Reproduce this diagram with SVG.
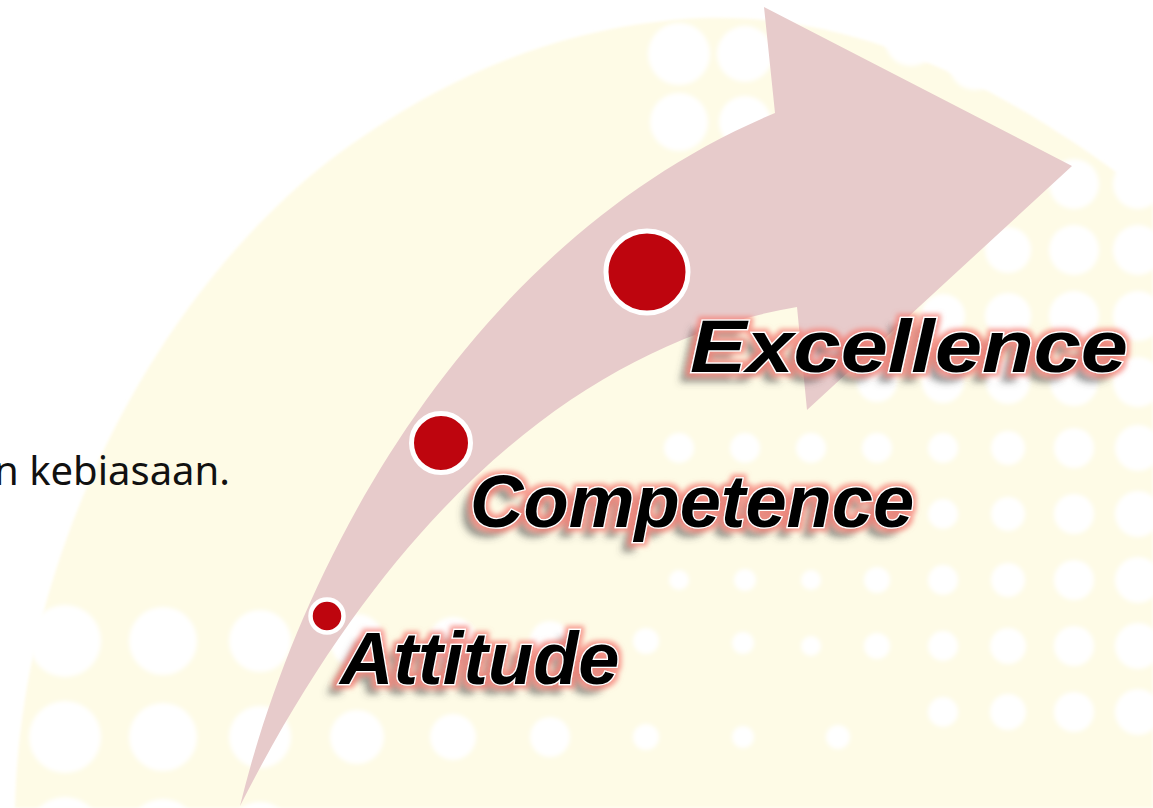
<svg xmlns="http://www.w3.org/2000/svg" width="1153" height="808" viewBox="0 0 1153 808">
  <defs>
    <filter id="soft" x="-50%" y="-50%" width="200%" height="200%">
      <feGaussianBlur stdDeviation="2"/>
    </filter>
    <filter id="edge" x="-5%" y="-5%" width="110%" height="110%">
      <feGaussianBlur stdDeviation="1.5"/>
    </filter>
    <!-- pink glow plus grey drop shadow behind the outlined labels -->
    <filter id="wordart" x="-15%" y="-40%" width="130%" height="190%">
      <feMorphology in="SourceAlpha" operator="dilate" radius="2.5" result="dil"/>
      <feGaussianBlur in="dil" stdDeviation="2.4" result="blur"/>
      <feFlood flood-color="#f57d74" flood-opacity="0.75"/>
      <feComposite in2="blur" operator="in" result="glow"/>
      <feOffset in="SourceAlpha" dx="-10" dy="9" result="off"/>
      <feGaussianBlur in="off" stdDeviation="3.5" result="sblur"/>
      <feFlood flood-color="#4a4a4a" flood-opacity="0.55"/>
      <feComposite in2="sblur" operator="in" result="shadow"/>
      <feMerge>
        <feMergeNode in="shadow"/>
        <feMergeNode in="glow"/>
        <feMergeNode in="SourceGraphic"/>
      </feMerge>
    </filter>
  </defs>
  <style>
    .dot { fill: #ffffff; }
    .stage { fill: #be050e; stroke: #ffffff; }
    .label { font-family: "Liberation Sans", Arial, sans-serif; font-weight: bold; font-style: italic;
             font-size: 74px; fill: #000000; stroke: #ffffff; stroke-width: 2.5; paint-order: stroke;
             filter: url(#wordart); }
    .body { font-family: "Noto Sans", "Open Sans", sans-serif; font-size: 40px; fill: #111111; }
  </style>

  <rect width="1153" height="808" fill="#ffffff"/>

  <!-- pale yellow backdrop -->
  <path d="M 15 808 C 20 560 150 300 330 160 C 450 70 570 25 700 18 C 850 12 1000 80 1153 200 L 1153 808 Z"
        fill="#fefbe6" filter="url(#edge)"/>

  <!-- halftone dot field -->
  <g id="dots" filter="url(#soft)">
    <!-- upper cluster -->
    <circle class="dot" cx="679" cy="54" r="31"/>
    <circle class="dot" cx="745" cy="54" r="28"/>
    <circle class="dot" cx="679" cy="122" r="29"/>
    <circle class="dot" cx="745" cy="122" r="26"/>
    <circle class="dot" cx="911" cy="40" r="26"/>
    <circle class="dot" cx="975" cy="64" r="26"/>
    <circle class="dot" cx="1075" cy="110" r="26"/>
    <circle class="dot" cx="1140" cy="118" r="26"/>
    <circle class="dot" cx="1074" cy="184" r="25"/>
    <circle class="dot" cx="1138" cy="184" r="25"/>
    <circle class="dot" cx="1008" cy="250" r="23"/>
    <circle class="dot" cx="1074" cy="250" r="25"/>
    <circle class="dot" cx="1138" cy="250" r="25"/>
    <circle class="dot" cx="943" cy="316" r="22"/>
    <circle class="dot" cx="1008" cy="316" r="23"/>
    <circle class="dot" cx="1074" cy="316" r="25"/>
    <circle class="dot" cx="1138" cy="316" r="25"/>
    <circle class="dot" cx="877" cy="382" r="20"/>
    <circle class="dot" cx="943" cy="382" r="21"/>
    <circle class="dot" cx="1008" cy="382" r="22"/>
    <circle class="dot" cx="1074" cy="382" r="24"/>
    <circle class="dot" cx="1138" cy="382" r="25"/>
    <!-- middle band -->
    <circle class="dot" cx="679" cy="448" r="15"/>
    <circle class="dot" cx="745" cy="448" r="15"/>
    <circle class="dot" cx="811" cy="448" r="15"/>
    <circle class="dot" cx="877" cy="448" r="15"/>
    <circle class="dot" cx="943" cy="448" r="15"/>
    <circle class="dot" cx="1008" cy="448" r="17"/>
    <circle class="dot" cx="1074" cy="448" r="20"/>
    <circle class="dot" cx="1138" cy="448" r="23"/>
    <circle class="dot" cx="943" cy="514" r="15"/>
    <circle class="dot" cx="1008" cy="514" r="17"/>
    <circle class="dot" cx="1074" cy="514" r="20"/>
    <circle class="dot" cx="1138" cy="514" r="23"/>
    <circle class="dot" cx="679" cy="580" r="10"/>
    <circle class="dot" cx="745" cy="580" r="11"/>
    <circle class="dot" cx="811" cy="580" r="10"/>
    <circle class="dot" cx="877" cy="580" r="13"/>
    <circle class="dot" cx="943" cy="580" r="15"/>
    <circle class="dot" cx="1008" cy="580" r="17"/>
    <circle class="dot" cx="1074" cy="580" r="20"/>
    <circle class="dot" cx="1138" cy="580" r="23"/>
    <circle class="dot" cx="811" cy="646" r="10"/>
    <circle class="dot" cx="877" cy="646" r="13"/>
    <circle class="dot" cx="943" cy="646" r="15"/>
    <circle class="dot" cx="1008" cy="646" r="18"/>
    <circle class="dot" cx="1074" cy="646" r="20"/>
    <circle class="dot" cx="1138" cy="646" r="23"/>
    <circle class="dot" cx="943" cy="712" r="15"/>
    <circle class="dot" cx="1008" cy="712" r="18"/>
    <circle class="dot" cx="1074" cy="712" r="20"/>
    <circle class="dot" cx="1138" cy="712" r="23"/>
    <!-- lower left cluster -->
    <circle class="dot" cx="65" cy="641" r="36"/>
    <circle class="dot" cx="163" cy="641" r="34"/>
    <circle class="dot" cx="260" cy="641" r="31"/>
    <circle class="dot" cx="357" cy="641" r="27"/>
    <circle class="dot" cx="453" cy="641" r="24"/>
    <circle class="dot" cx="550" cy="641" r="20"/>
    <circle class="dot" cx="646" cy="641" r="13"/>
    <circle class="dot" cx="743" cy="643" r="11"/>
    <circle class="dot" cx="65" cy="737" r="36"/>
    <circle class="dot" cx="163" cy="737" r="34"/>
    <circle class="dot" cx="260" cy="737" r="31"/>
    <circle class="dot" cx="357" cy="737" r="27"/>
    <circle class="dot" cx="453" cy="737" r="23"/>
    <circle class="dot" cx="550" cy="737" r="20"/>
    <circle class="dot" cx="646" cy="737" r="13"/>
    <circle class="dot" cx="743" cy="737" r="11"/>
    <circle class="dot" cx="838" cy="737" r="12"/>
    <circle class="dot" cx="65" cy="833" r="36"/>
    <circle class="dot" cx="163" cy="833" r="34"/>
    <circle class="dot" cx="260" cy="833" r="31"/>
  </g>

  <!-- sentence tail running in from the left edge -->
  <text class="body" x="-6" y="485" textLength="236" lengthAdjust="spacingAndGlyphs">n kebiasaan.</text>

  <!-- rising curved arrow -->
  <g id="connectors">
    <path id="growth-arrow" fill="#e7cbcb"
          d="M 240 806 C 300 560 470 240 775 113 L 764 7 L 1072 166 L 807 410 L 797 307 C 600 340 400 490 240 806 Z"/>
  </g>

  <g id="stage-attitude">
    <circle class="stage" cx="327" cy="616" r="16.5" stroke-width="4.5"/>
    <text class="label" x="340" y="684">Attitude</text>
  </g>

  <g id="stage-competence">
    <circle class="stage" cx="441" cy="443" r="29.5" stroke-width="5"/>
    <text class="label" x="470" y="527">Competence</text>
  </g>

  <g id="stage-excellence">
    <circle class="stage" cx="647" cy="272" r="41" stroke-width="5"/>
    <text class="label" x="690" y="372" font-size="80" textLength="438" lengthAdjust="spacingAndGlyphs">Excellence</text>
  </g>
</svg>
